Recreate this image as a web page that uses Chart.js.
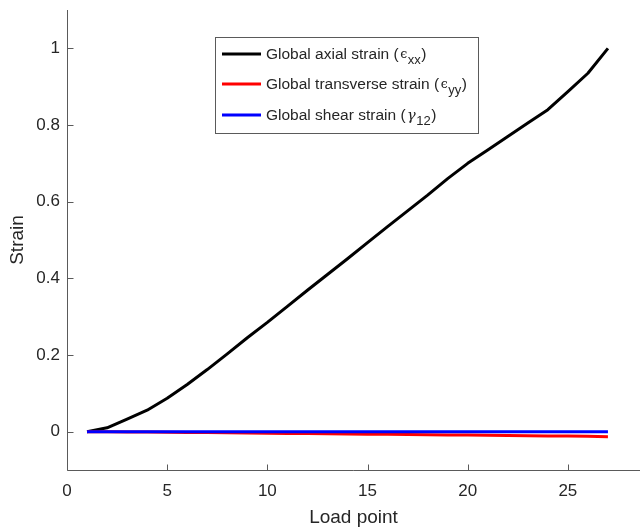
<!DOCTYPE html>
<html>
<head>
<meta charset="utf-8">
<script src="https://cdn.jsdelivr.net/npm/chart.js@4/dist/chart.umd.min.js"></script>
<style>
  html, body { margin: 0; padding: 0; background: #fff; }
  #wrap { width: 642px; height: 527px; }
</style>
</head>
<body>
<div id="wrap"><canvas id="c" width="642" height="527"></canvas></div>
<script>
// Load points and global strains
const loadPoints = [1, 2, 3, 4, 5, 6, 7, 8, 9, 10, 11, 12, 13, 14, 15, 16, 17, 18, 19, 20, 21, 22, 23, 24, 25, 26, 27];
const axialStrain = [0, 0.010, 0.033, 0.056, 0.087, 0.123, 0.162, 0.203, 0.245, 0.285, 0.327, 0.369, 0.410, 0.451, 0.493, 0.535, 0.576, 0.617, 0.660, 0.700, 0.735, 0.770, 0.805, 0.840, 0.887, 0.935, 1.000];
const transverseStrain = [0, -0.0003, -0.0007, -0.001, -0.0015, -0.002, -0.0025, -0.003, -0.0035, -0.004, -0.0045, -0.005, -0.0055, -0.006, -0.0065, -0.007, -0.0075, -0.008, -0.0085, -0.009, -0.0095, -0.010, -0.0105, -0.011, -0.0115, -0.012, -0.013];
const shearStrain = [0, 0, 0, 0, 0, 0, 0, 0, 0, 0, 0, 0, 0, 0, 0, 0, 0, 0, 0, 0, 0, 0, 0, 0, 0, 0, 0];

const xTicks = [0, 5, 10, 15, 20, 25];
const yTicks = [0, 0.2, 0.4, 0.6, 0.8, 1];

// Legend entries: base text, symbol, subscript
const legendItems = [
  { base: 'Global axial strain (', sym: '\u03F5', sub: 'xx', color: '#000000' },
  { base: 'Global transverse strain (', sym: '\u03F5', sub: 'yy', color: '#ff0000' },
  { base: 'Global shear strain (', sym: '\u03B3', sub: '12', color: '#0000ff' }
];

const FONT = '"Liberation Sans", Arial, Helvetica, sans-serif';
const TEXT = '#262626';
const AXIS = '#5a5a5a';

const pts = (ys) => loadPoints.map((x, i) => ({ x: x, y: ys[i] }));

// Scales keep no extra padding for their end labels
const noPad = (s) => { s.paddingTop = 0; s.paddingBottom = 0; s.paddingLeft = 0; s.paddingRight = 0; };

// Inward tick marks and the two axis lines
const axisPlugin = {
  id: 'axisTicks',
  afterDraw(chart) {
    const { ctx, chartArea, scales } = chart;
    ctx.save();
    ctx.strokeStyle = AXIS;
    ctx.lineWidth = 1;
    ctx.beginPath();
    const L = Math.round(chartArea.left) + 0.5;
    const B = Math.round(chartArea.bottom) + 0.5;
    ctx.moveTo(L, chartArea.top);
    ctx.lineTo(L, B);
    ctx.lineTo(chartArea.right, B);
    xTicks.forEach(v => {
      const px = Math.round(scales.x.getPixelForValue(v)) + 0.5;
      ctx.moveTo(px, B);
      ctx.lineTo(px, B - 6);
    });
    yTicks.forEach(v => {
      const py = Math.round(scales.y.getPixelForValue(v)) + 0.5;
      ctx.moveTo(L, py);
      ctx.lineTo(L + 6, py);
    });
    ctx.stroke();
    ctx.restore();
  }
};

// Boxed legend with subscripted symbols
const legendPlugin = {
  id: 'strainLegend',
  afterDraw(chart) {
    const { ctx, chartArea } = chart;
    const x0 = chartArea.left + 148, y0 = chartArea.top + 27;
    const w = 263, h = 96;
    ctx.save();
    ctx.fillStyle = '#ffffff';
    ctx.fillRect(x0, y0, w, h);
    ctx.strokeStyle = AXIS;
    ctx.lineWidth = 1;
    ctx.strokeRect(x0 + 0.5, y0 + 0.5, w, h);
    const rows = [17, 47, 78];
    legendItems.forEach((it, i) => {
      const y = y0 + rows[i];
      ctx.strokeStyle = it.color;
      ctx.lineWidth = 3;
      ctx.beginPath();
      ctx.moveTo(x0 + 7, y);
      ctx.lineTo(x0 + 46, y);
      ctx.stroke();
      ctx.fillStyle = TEXT;
      ctx.textBaseline = 'alphabetic';
      ctx.font = '15.5px ' + FONT;
      let tx = x0 + 51;
      const base = y + 5;
      ctx.fillText(it.base, tx, base);
      tx += ctx.measureText(it.base).width;
      const isGamma = it.sym === '\u03B3';
      ctx.font = (isGamma ? 'italic 14.5px ' : '12.5px ') + '"DejaVu Serif", serif';
      ctx.fillText(it.sym, tx + 1.5, base - (isGamma ? 0 : 1));
      tx += ctx.measureText(it.sym).width + 2;
      ctx.font = '13px ' + FONT;
      ctx.fillText(it.sub, tx, base + 5);
      tx += ctx.measureText(it.sub).width + 0.5;
      ctx.font = '15.5px ' + FONT;
      ctx.fillText(')', tx, base);
    });
    ctx.restore();
  }
};

new Chart(document.getElementById('c'), {
  type: 'line',
  data: {
    datasets: [
      { label: 'Global axial strain', data: pts(axialStrain), borderColor: '#000000', order: 2 },
      { label: 'Global transverse strain', data: pts(transverseStrain), borderColor: '#ff0000', order: 1 },
      { label: 'Global shear strain', data: pts(shearStrain), borderColor: '#0000ff', order: 0 }
    ]
  },
  options: {
    responsive: false,
    animation: false,
    devicePixelRatio: 1,
    layout: { padding: { top: 10, right: 2, left: 0, bottom: 0 } },
    elements: {
      line: { borderWidth: 3, tension: 0, borderCapStyle: 'butt', borderJoinStyle: 'round', fill: false },
      point: { radius: 0 }
    },
    plugins: { legend: { display: false }, tooltip: { enabled: false } },
    scales: {
      x: {
        type: 'linear',
        min: 0,
        max: 28.6,
        afterBuildTicks: (s) => { s.ticks = xTicks.map(v => ({ value: v })); },
        afterFit: (s) => { s.height = 57; noPad(s); },
        border: { display: false },
        grid: { display: false, drawTicks: false },
        ticks: { color: TEXT, font: { family: FONT, size: 17 }, padding: 11, maxRotation: 0 },
        title: { display: true, text: 'Load point', color: TEXT, font: { family: FONT, size: 19, lineHeight: 1 }, padding: { top: 0, bottom: 0 } }
      },
      y: {
        type: 'linear',
        min: -0.1,
        max: 1.1,
        afterBuildTicks: (s) => { s.ticks = yTicks.map(v => ({ value: v })); },
        afterFit: (s) => { s.width = 67; noPad(s); },
        border: { display: false },
        grid: { display: false, drawTicks: false },
        ticks: { color: TEXT, font: { family: FONT, size: 17 }, padding: 7,
                 callback: (v) => String(Math.round(v * 10) / 10) },
        title: { display: true, text: 'Strain', color: TEXT, font: { family: FONT, size: 19, lineHeight: 1 }, padding: { top: 8, bottom: 0 } }
      }
    }
  },
  plugins: [axisPlugin, legendPlugin]
});
</script>
</body>
</html>
